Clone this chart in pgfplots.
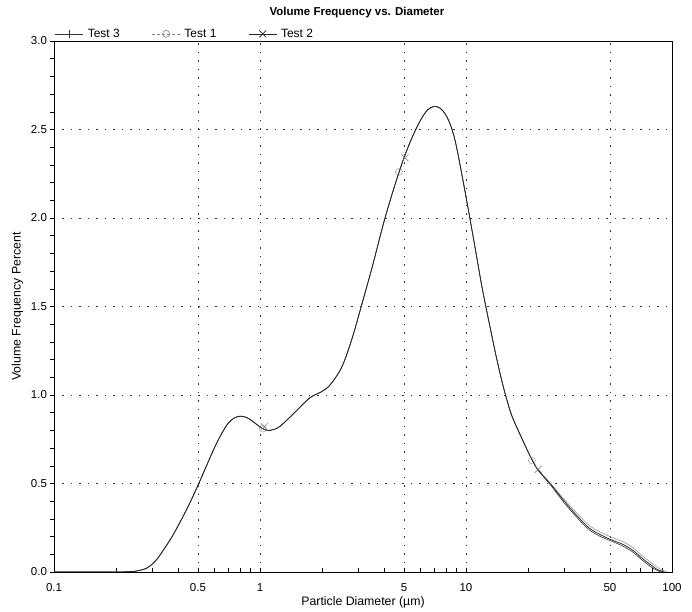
\documentclass[border=0pt]{standalone}
\usepackage{fontspec}
\setmainfont{Liberation Sans}
\usepackage{pgfplots}
\pgfplotsset{compat=1.18}

% Test 3
\pgfplotstableread{
d y
0.1 0
0.2 0
0.22 0.001
0.25 0.005
0.28 0.02
0.3 0.045
0.32 0.08
0.34 0.125
0.37 0.19
0.4 0.26
0.45 0.375
0.5 0.49
0.55 0.60
0.6 0.70
0.65 0.78
0.7 0.84
0.75 0.87
0.8 0.88
0.85 0.875
0.9 0.86
1.0 0.82
1.08 0.80
1.2 0.81
1.3 0.84
1.5 0.91
1.75 0.985
2.0 1.02
2.2 1.06
2.5 1.16
2.8 1.32
3.1 1.50
3.5 1.72
4.0 1.98
4.5 2.18
5.0 2.34
5.5 2.46
6.0 2.55
6.5 2.61
7.0 2.63
7.5 2.62
8.0 2.58
8.5 2.51
9.0 2.40
10 2.12
11 1.85
12 1.60
13 1.40
14 1.22
15 1.07
16 0.95
17 0.86
20 0.68
21 0.63
22.4 0.575
26 0.49
30 0.40
35.7 0.30
40 0.245
45 0.21
50 0.185
58 0.155
65 0.12
72 0.075
80 0.035
86 0.01
92 0
}\testthree

% Test 1
\pgfplotstableread{
d y
0.1 0
0.2 0
0.22 0.001
0.25 0.005
0.28 0.02
0.3 0.045
0.32 0.08
0.34 0.125
0.37 0.19
0.4 0.26
0.45 0.375
0.5 0.49
0.55 0.60
0.6 0.70
0.65 0.78
0.7 0.84
0.75 0.87
0.8 0.88
0.85 0.875
0.9 0.86
1.0 0.82
1.08 0.80
1.2 0.81
1.3 0.84
1.5 0.91
1.75 0.985
2.0 1.02
2.2 1.06
2.5 1.16
2.8 1.32
3.1 1.50
3.5 1.72
4.0 1.98
4.5 2.18
5.0 2.34
5.5 2.46
6.0 2.55
6.5 2.61
7.0 2.63
7.5 2.62
8.0 2.58
8.5 2.51
9.0 2.40
10 2.12
11 1.85
12 1.60
13 1.40
14 1.22
15 1.07
16 0.95
17 0.86
20 0.68
21 0.635
22.4 0.58
26 0.495
30 0.41
35.7 0.315
40 0.26
45 0.225
50 0.20
58 0.17
65 0.135
72 0.09
80 0.05
88 0.015
95 0
}\testone

% Test 2
\pgfplotstableread{
d y
0.1 0
0.2 0
0.22 0.001
0.25 0.005
0.28 0.02
0.3 0.045
0.32 0.08
0.34 0.125
0.37 0.19
0.4 0.26
0.45 0.375
0.5 0.49
0.55 0.60
0.6 0.70
0.65 0.78
0.7 0.84
0.75 0.87
0.8 0.88
0.85 0.875
0.9 0.86
1.0 0.82
1.08 0.80
1.2 0.81
1.3 0.84
1.5 0.91
1.75 0.985
2.0 1.02
2.2 1.06
2.5 1.16
2.8 1.32
3.1 1.50
3.5 1.72
4.0 1.98
4.5 2.18
5.0 2.34
5.5 2.46
6.0 2.55
6.5 2.61
7.0 2.63
7.5 2.62
8.0 2.58
8.5 2.51
9.0 2.40
10 2.12
11 1.85
12 1.60
13 1.40
14 1.22
15 1.07
16 0.95
17 0.86
20 0.68
21 0.63
22.4 0.575
26 0.485
30 0.39
35.7 0.29
40 0.235
45 0.20
50 0.178
58 0.145
65 0.11
72 0.065
80 0.025
86 0.005
90 0
}\testtwo

\begin{document}
\begin{tikzpicture}
\begin{axis}[
    name=main,
    scale only axis,
    width=618pt, height=531pt,
    xmode=log,
    xmin=0.1, xmax=100,
    ymin=0, ymax=3,
    xtick={0.1,0.5,1,5,10,50,100},
    xticklabels={0.1,0.5,1,5,10,50,100},
    minor xtick={0.2,0.3,0.4,0.6,0.7,0.8,0.9,2,3,4,6,7,8,9,20,30,40,60,70,80,90},
    ytick={0,0.5,1,1.5,2,2.5,3},
    yticklabel style={xshift=-3.5pt, /pgf/number format/.cd, fixed, fixed zerofill, precision=1},
    minor y tick num=4,
    tick pos=left,
    tick align=inside,
    major tick length=4pt, minor tick length=4pt,
    ytick style={xshift=-4pt},
    tick style={black, line width=0.5pt},
    grid=major,
    major grid style={black!80, line width=0.6pt, dash pattern=on 1.5pt off 7pt},
    axis line style={black, line width=0.7pt},
    ticklabel style={font=\fontsize{11.5}{13}\selectfont},
    xticklabel style={yshift=-8pt},
    /pgf/number format/assume math mode=true,
    xlabel={Particle Diameter (µm)},
    ylabel={Volume Frequency Percent},
    label style={font=\fontsize{12.3}{14}\selectfont},
    xlabel style={yshift=2pt},
    ylabel style={yshift=1pt},
    title={\textbf{Volume Frequency vs. Diameter}},
    title style={font=\fontsize{11.5}{13}\selectfont, yshift=14pt, xshift=-6pt},
    legend columns=3,
    legend style={draw=none, fill=none, at={(rel axis cs:0,1)}, anchor=south west,
        font=\fontsize{12}{14}\selectfont, yshift=-2pt, xshift=-2pt},
    legend image code/.code={\draw[mark repeat=2,mark phase=2,#1] plot coordinates {(0pt,0pt) (14pt,0pt) (28pt,0pt)};},
    /tikz/every odd column/.append style={column sep=2pt},
    /tikz/every even column/.append style={column sep=30pt},
    legend cell align=left,
]
\addlegendimage{black!80, line width=0.6pt, mark=|, mark size=4pt}
\addlegendentry{Test 3}
\addlegendimage{gray, line width=0.6pt, densely dashed, mark=o, mark size=3.5pt, mark options={solid}}
\addlegendentry{Test 1}
\addlegendimage{black!85, line width=0.6pt, mark=x, mark size=5pt}
\addlegendentry{Test 2}

\addplot[gray!80, line width=0.6pt, smooth, tension=0.55, forget plot] table[x=d,y=y] {\testone};
\addplot[black!80, line width=0.6pt, smooth, tension=0.55, forget plot] table[x=d,y=y] {\testtwo};
\addplot[black!85, line width=0.75pt, smooth, tension=0.55, forget plot] table[x=d,y=y] {\testthree};

\addplot[only marks, mark=o, mark size=3.5pt, gray!90, forget plot] coordinates {(1.03,0.81) (4.72,2.26) (20.9,0.63)};
\addplot[only marks, mark=x, mark size=5pt, gray!90!black, forget plot] coordinates {(1.05,0.82) (5.06,2.34) (22.4,0.58)};
\end{axis}
\path (main.south west) ++(-54pt,-39pt) (main.north east) ++(20pt,41pt);
\end{tikzpicture}
\end{document}
